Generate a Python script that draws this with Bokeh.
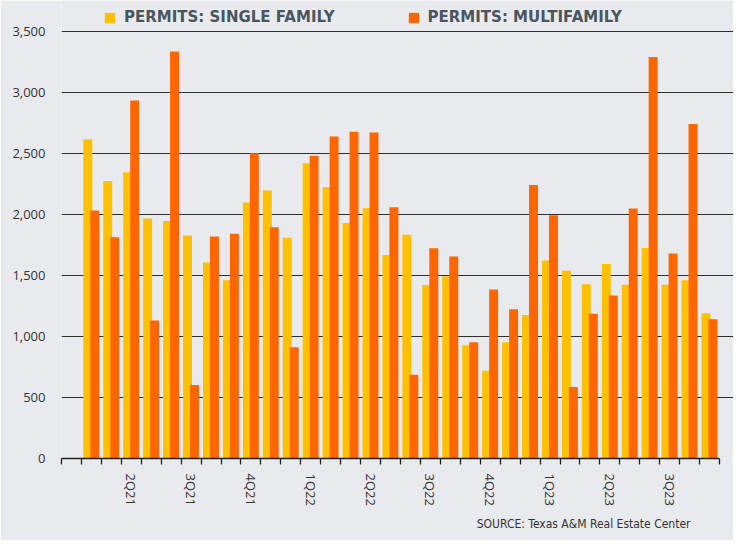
import math
from bokeh.plotting import figure
from bokeh.models import (ColumnDataSource, FixedTicker, NumeralTickFormatter, Legend,
                          LegendItem, Title, Range1d)
from bokeh.transform import dodge
from bokeh.embed import file_html
from bokeh.resources import INLINE

# ---- data (monthly, Feb 2021 .. Sep 2023) ----
months = ["2021-02", "2021-03", "2021-04", "2021-05", "2021-06", "2021-07", "2021-08",
          "2021-09", "2021-10", "2021-11", "2021-12", "2022-01", "2022-02", "2022-03",
          "2022-04", "2022-05", "2022-06", "2022-07", "2022-08", "2022-09", "2022-10",
          "2022-11", "2022-12", "2023-01", "2023-02", "2023-03", "2023-04", "2023-05",
          "2023-06", "2023-07", "2023-08", "2023-09"]
single_family = [2618, 2276, 2348, 1968, 1949, 1830, 1607, 1463, 2101, 2199, 1811, 2422,
                 2228, 1931, 2053, 1670, 1836, 1424, 1495, 930, 720, 954, 1177, 1625,
                 1540, 1429, 1596, 1426, 1726, 1426, 1463, 1192]
multifamily = [2034, 1814, 2937, 1131, 3338, 603, 1822, 1843, 2504, 1896, 913, 2483,
               2642, 2680, 2674, 2061, 688, 1724, 1657, 954, 1386, 1224, 2244, 1995,
               587, 1187, 1338, 2050, 3293, 1681, 2743, 1142]
quarter_labels = ["2Q21", "3Q21", "4Q21", "1Q22", "2Q22", "3Q22", "4Q22",
                  "1Q23", "2Q23", "3Q23"]
y_ticks = [0, 500, 1000, 1500, 2000, 2500, 3000, 3500]

BG = "#E9EAEE"
YELLOW = "#FFC000"
ORANGE = "#FF6600"

# category slots: slot 0 is an empty month, data fills slots 1..32
first_slot = 1
pos = [first_slot + i + 0.5 for i in range(len(months))]
src = ColumnDataSource(dict(x=pos, month=months, sf=single_family, mf=multifamily))
n_slots = first_slot + len(months)

W, H = 733, 540
BOTTOM = 82
p = figure(width=W, height=H, output_backend="svg", toolbar_location=None,
           x_range=Range1d(0, 33.70), y_range=Range1d(0, 3757),
           min_border_left=61, min_border_right=0, min_border_top=0,
           min_border_bottom=BOTTOM)
p.background_fill_color = BG
p.border_fill_color = BG
p.outline_line_color = None

r_sf = p.vbar(x=dodge("x", -0.18, range=p.x_range), top="sf", width=0.45, source=src,
              fill_color=YELLOW, line_color=None)
r_mf = p.vbar(x=dodge("x", 0.17, range=p.x_range), top="mf", width=0.45, source=src,
              fill_color=ORANGE, line_color=None)

# x axis: ticks at slot boundaries (minor), labels at quarter-start slots (major)
label_pos = [first_slot + 2 + 3 * k + 0.5 for k in range(len(quarter_labels))]
xa = p.xaxis[0]
xa.ticker = FixedTicker(ticks=label_pos, minor_ticks=list(range(0, n_slots + 1)))
xa.major_label_overrides = {lp: lab for lp, lab in zip(label_pos, quarter_labels)}
xa.major_label_orientation = -math.pi / 2
xa.major_tick_out = 0
xa.major_tick_in = 0
xa.minor_tick_out = 6
xa.minor_tick_in = 0
xa.minor_tick_line_color = "#222222"
xa.minor_tick_line_width = 1.3
xa.axis_line_color = "#222222"
xa.axis_line_width = 1.5
xa.bounds = (0, n_slots)
xa.major_label_standoff = 9
xa.major_label_text_font = "Open Sans"
xa.major_label_text_font_size = "13px"
xa.major_label_text_color = "#333333"

ya = p.yaxis[0]
ya.ticker = FixedTicker(ticks=y_ticks)
ya.formatter = NumeralTickFormatter(format="0,0")
ya.axis_line_color = None
ya.major_tick_out = 0
ya.major_tick_in = 0
ya.minor_tick_line_color = None
ya.major_label_standoff = 16
ya.major_label_text_font = "Open Sans"
ya.major_label_text_font_size = "13px"
ya.major_label_text_color = "#333333"

p.xgrid.grid_line_color = None
p.ygrid.ticker = FixedTicker(ticks=y_ticks[1:])
p.ygrid.grid_line_color = "#2E2E2E"
p.ygrid.grid_line_width = 1.2

frame_h = H - BOTTOM
legend = Legend(items=[LegendItem(label="PERMITS: SINGLE FAMILY", renderers=[r_sf]),
                       LegendItem(label="PERMITS: MULTIFAMILY", renderers=[r_mf])],
                orientation="horizontal", location=(42, frame_h - 26),
                background_fill_alpha=0, border_line_color=None,
                glyph_width=13, glyph_height=13, label_standoff=8, spacing=72,
                padding=0, margin=0,
                label_text_font="DejaVu Sans", label_text_font_style="bold",
                label_text_font_size="15px", label_text_color="#4A5561")
p.add_layout(legend, "center")

source_title = Title(text="SOURCE: Texas A&M Real Estate Center", align="right",
                     offset=43, standoff=12,
                     text_font="'Liberation Sans Narrow', 'DejaVu Sans Condensed', Roboto, sans-serif",
                     text_font_size="12px", text_font_style="normal",
                     text_color="#333333")
p.add_layout(source_title, "below")

open("out.html", "w").write(file_html(p, INLINE))
